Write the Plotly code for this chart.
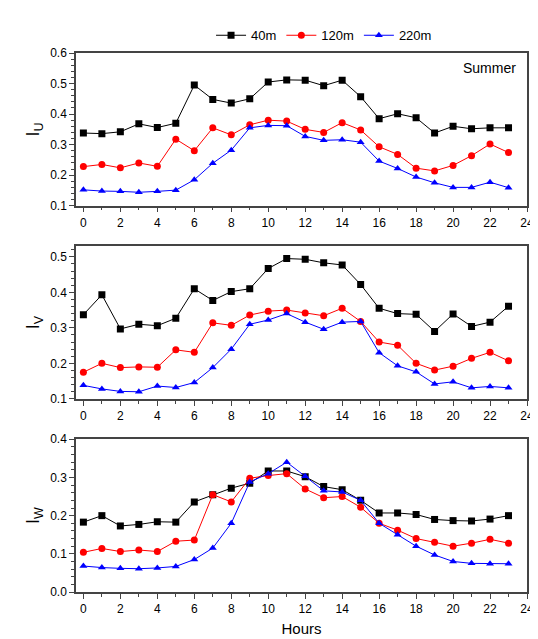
import plotly.graph_objects as go
from plotly.subplots import make_subplots

hours = list(range(24))
iu_40 = [.338,.336,.342,.368,.356,.37,.495,.448,.436,.45,.505,.512,.511,.493,.511,.457,.385,.401,.388,.338,.36,.352,.355,.355]
iu_120 = [.228,.235,.224,.24,.229,.318,.28,.355,.332,.365,.38,.377,.35,.34,.372,.348,.293,.268,.223,.214,.232,.264,.302,.274]
iu_220 = [.152,.148,.147,.144,.147,.151,.185,.239,.282,.355,.363,.362,.327,.314,.316,.308,.246,.222,.194,.175,.16,.16,.177,.159]
iv_40 = [.337,.393,.297,.31,.306,.327,.41,.377,.402,.41,.467,.495,.493,.483,.477,.422,.355,.34,.338,.29,.339,.304,.316,.361]
iv_120 = [.175,.2,.188,.19,.189,.238,.231,.314,.307,.336,.347,.35,.342,.334,.355,.318,.26,.251,.2,.181,.192,.214,.231,.207]
iv_220 = [.138,.128,.121,.12,.136,.132,.146,.188,.24,.31,.322,.34,.316,.296,.316,.318,.23,.193,.176,.142,.148,.131,.135,.131]
iw_40 = [.183,.2,.173,.177,.184,.183,.236,.255,.272,.285,.317,.317,.302,.276,.268,.24,.207,.207,.203,.19,.187,.186,.191,.2]
iw_120 = [.104,.114,.106,.11,.106,.133,.136,.255,.236,.298,.305,.31,.27,.247,.25,.222,.18,.162,.14,.13,.12,.128,.138,.128]
iw_220 = [.068,.064,.062,.061,.063,.067,.085,.115,.18,.288,.31,.34,.303,.265,.262,.24,.18,.15,.12,.097,.08,.075,.074,.074]

names = ["40m", "120m", "220m"]
colors = ["black", "red", "blue"]
symbols = ["square", "circle", "triangle-up"]
panels = [(iu_40, iu_120, iu_220), (iv_40, iv_120, iv_220), (iw_40, iw_120, iw_220)]

fig = make_subplots(rows=3, cols=1, vertical_spacing=0.075)
for r, series in enumerate(panels, start=1):
    for i, ys in enumerate(series):
        fig.add_trace(go.Scatter(
            x=hours, y=ys, mode="lines+markers", name=names[i],
            showlegend=(r == 1),
            line=dict(color=colors[i], width=1),
            marker=dict(color=colors[i], symbol=symbols[i], size=7),
        ), row=r, col=1)

axis_style = dict(showline=True, linecolor="#444", linewidth=1.5, mirror=True,
                  ticks="outside", ticklen=5, showgrid=False, zeroline=False,
                  tickfont=dict(size=12, color="black"),
                  minor=dict(ticks="outside", ticklen=3))
yranges = [[0.1, 0.6], [0.1, 0.53], [0, 0.4]]
ytitles = ["I<sub>U</sub>", "I<sub>V</sub>", "I<sub>W</sub>"]
for r in range(1, 4):
    fig.update_xaxes(range=[-0.4, 24], tickvals=list(range(0, 25, 2)), row=r, col=1, **axis_style)
    fig.update_yaxes(range=yranges[r - 1], dtick=0.1, tickformat=".1f",
                     title=dict(text=ytitles[r - 1], font=dict(size=18), standoff=6),
                     row=r, col=1, **axis_style)
fig.update_xaxes(title=dict(text="Hours", font=dict(size=15), standoff=8), row=3, col=1)

fig.add_annotation(text="Summer", xref="x domain", yref="y domain", x=0.98, y=0.97,
                   showarrow=False, xanchor="right", yanchor="top", font=dict(size=14, color="black"))

fig.update_layout(
    width=538, height=639,
    margin=dict(l=68, r=14, t=28, b=50),
    paper_bgcolor="white", plot_bgcolor="white",
    font=dict(family="Arial, Liberation Sans", color="black"),
    legend=dict(orientation="h", x=0.55, xanchor="center", y=1.005, yanchor="bottom",
                font=dict(size=13)),
)
fig.write_html("out.html")
